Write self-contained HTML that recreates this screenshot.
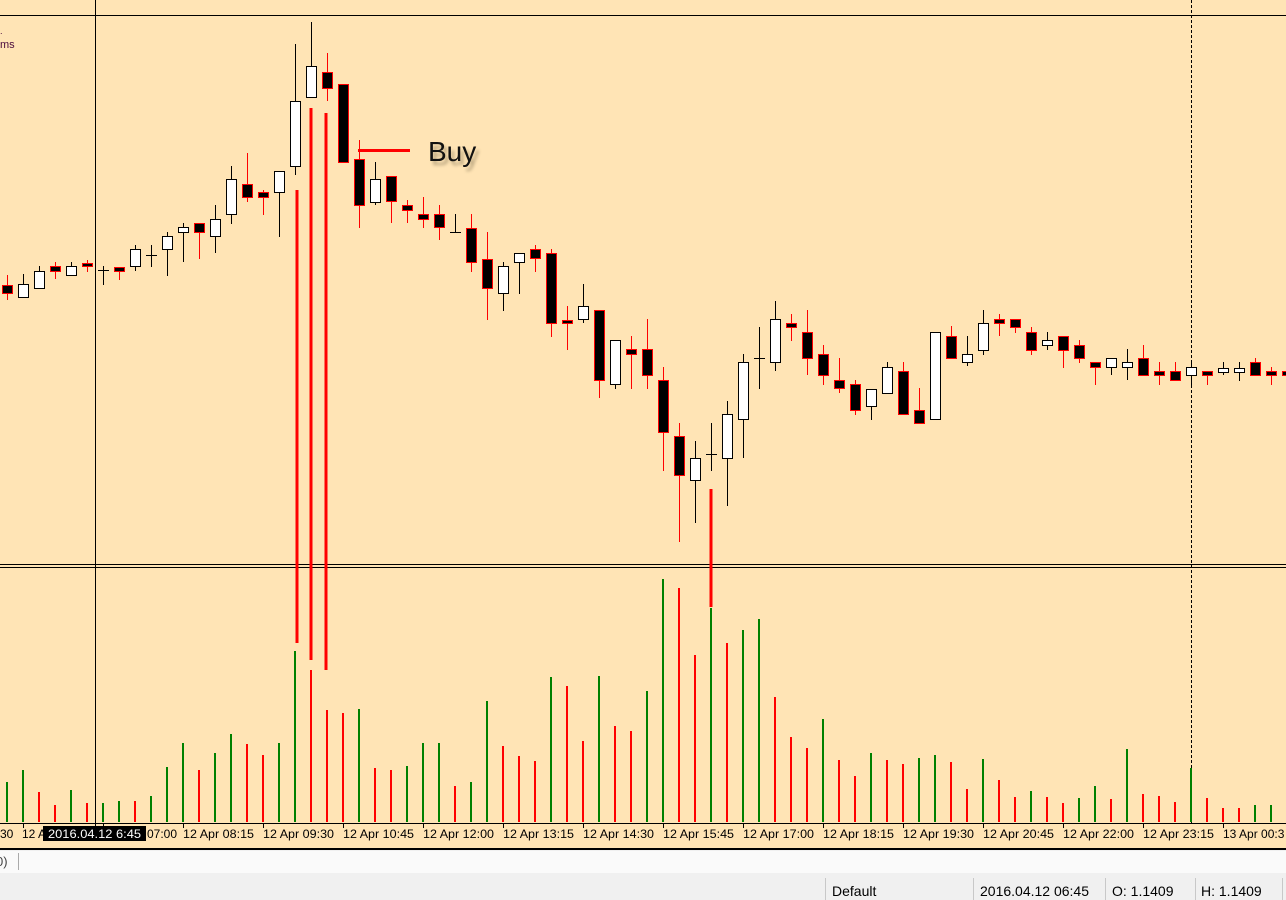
<!DOCTYPE html>
<html><head><meta charset="utf-8"><style>
html,body{margin:0;padding:0;width:1286px;height:900px;overflow:hidden;background:#FFE4B5;font-family:"Liberation Sans",sans-serif}
svg{position:absolute;left:0;top:0}
</style></head><body>
<svg id="s" width="1286" height="900" xmlns="http://www.w3.org/2000/svg"></svg>
<script>
var C=[[285,293,275,300,0],[297,284,274,297,1],[288,271,266,288,1],[266,271,262,279,0],[275,266,262,275,1],[263,266,260,272,0],[270,270,266,285,2],[267,271,267,280,0],[266,249,245,271,1],[255,255,245,267,2],[249,236,232,276,1],[232,227,223,262,1],[223,232,223,259,0],[236,219,205,253,1],[214,179,166,224,1],[184,197,153,202,0],[192,197,190,215,0],[192,171,171,237,1],[166,101,44,175,1],[97,66,22,97,1],[72,88,53,101,0],[84,162,84,162,0],[159,205,140,228,0],[202,179,162,205,1],[176,201,176,223,0],[205,210,200,223,0],[214,219,197,228,0],[214,227,205,240,0],[232,232,214,232,2],[228,262,214,272,0],[259,288,232,320,0],[293,266,262,311,1],[262,253,253,294,1],[249,258,245,272,0],[253,323,249,337,0],[320,323,306,350,0],[319,306,284,323,1],[310,380,310,398,0],[384,340,340,389,1],[349,354,336,389,0],[349,375,319,389,0],[380,432,367,471,0],[436,475,423,542,0],[480,458,441,523,1],[454,454,423,471,2],[458,414,401,506,1],[419,362,354,458,1],[358,358,327,389,2],[362,319,301,371,1],[323,327,314,341,0],[332,358,310,375,0],[354,375,345,385,0],[380,388,358,393,0],[384,410,380,415,0],[406,389,389,420,1],[393,367,362,393,1],[371,414,362,414,0],[410,423,388,423,0],[419,332,332,419,1],[336,358,326,358,0],[362,354,336,366,1],[350,323,310,355,1],[319,323,314,336,0],[319,327,319,333,0],[332,350,327,355,0],[345,340,332,350,1],[336,350,336,368,0],[345,358,340,363,0],[362,367,362,385,0],[367,358,358,375,1],[367,362,349,380,1],[358,375,345,375,0],[371,375,362,385,0],[371,380,362,380,0],[375,367,362,388,1],[371,375,371,385,0],[372,368,362,375,1],[372,368,362,381,1],[362,375,358,375,0],[371,375,367,385,0],[371,375,367,380,0]];
var V=[[782,1],[770,1],[792,0],[805,0],[790,1],[803,0],[803,1],[801,1],[801,0],[796,1],[767,1],[743,1],[770,0],[753,1],[734,1],[744,0],[755,0],[743,1],[651,1],[670,0],[710,0],[713,0],[709,1],[768,0],[770,0],[766,1],[743,1],[743,1],[786,0],[782,1],[701,1],[746,0],[756,0],[761,0],[677,1],[686,0],[741,0],[676,1],[726,0],[731,0],[691,1],[579,1],[588,0],[655,0],[608,1],[643,0],[630,1],[619,1],[697,0],[737,0],[748,0],[719,1],[760,0],[776,0],[753,1],[760,0],[764,0],[758,1],[755,1],[762,0],[789,0],[759,1],[780,0],[797,0],[791,1],[797,0],[803,0],[798,1],[786,1],[799,0],[749,1],[794,0],[796,0],[802,0],[768,1],[798,0],[808,0],[808,0],[805,1],[805,1]];
var h='';
h+='<defs><filter id="sh" x="-50%" y="-10%" width="200%" height="120%"><feGaussianBlur stdDeviation="1.5"/></filter></defs>';
h+='<line x1="0" y1="15.5" x2="1286" y2="15.5" stroke="#000"/>';
h+='<line x1="0" y1="564.5" x2="1286" y2="564.5" stroke="#000"/><line x1="0" y1="567.5" x2="1286" y2="567.5" stroke="#000"/>';
h+='<line x1="95.5" y1="0" x2="95.5" y2="828" stroke="#000"/>';
h+='<line x1="1191.5" y1="0" x2="1191.5" y2="823" stroke="#000" stroke-dasharray="3,2"/>';
for(var i=0;i<V.length;i++){var x=7+16*i;h+='<rect x="'+(x-1)+'" y="'+V[i][0]+'" width="2" height="'+(822-V[i][0])+'" fill="'+(V[i][1]?'#008000':'#ff0000')+'"/>';}
for(var i=0;i<C.length;i++){var c=C[i],x=7+16*i;var col=c[4]==1||c[4]==2?'#000':'#ff0000';
h+='<line x1="'+(x+.5)+'" y1="'+c[2]+'" x2="'+(x+.5)+'" y2="'+c[3]+'" stroke="'+col+'"/>';
if(c[4]==2){h+='<line x1="'+(x-5)+'" y1="'+(c[0]+.5)+'" x2="'+(x+6)+'" y2="'+(c[0]+.5)+'" stroke="#000"/>';}
else{var t=Math.min(c[0],c[1]),b=Math.max(c[0],c[1]);h+='<rect x="'+(x-4.5)+'" y="'+(t+.5)+'" width="10" height="'+Math.max(b-t,2)+'" fill="'+(c[4]?'#fff':'#000')+'" stroke="'+col+'"/>';}}
var L=[[297,190,643],[311,108,660],[326,113,670],[711,489,607]];
for(var k=0;k<L.length;k++){var l=L[k];h+='<line x1="'+(l[0]+4)+'" y1="'+(l[1]+4)+'" x2="'+(l[0]+4)+'" y2="'+(l[2]+4)+'" stroke="#a08c6a" stroke-width="4" opacity=".6" filter="url(#sh)"/>';h+='<line x1="'+l[0]+'" y1="'+l[1]+'" x2="'+l[0]+'" y2="'+l[2]+'" stroke="#ff0000" stroke-width="3"/>';}
h+='<line x1="362" y1="154" x2="414" y2="154" stroke="#a08c6a" stroke-width="4" opacity=".6" filter="url(#sh)"/><line x1="358" y1="150.5" x2="410" y2="150.5" stroke="#ff0000" stroke-width="3"/>';
h+='<text x="431" y="165" font-size="28" fill="#8a7a5a" opacity=".6" filter="url(#sh)">Buy</text><text x="428" y="161" font-size="28" fill="#111">Buy</text>';
h+='<text x="0" y="48" font-size="11" fill="#4b0a3c">ms</text><text x="0" y="34" font-size="9" fill="#4b0a3c">.</text>';
h+='<line x1="0" y1="823.5" x2="1286" y2="823.5" stroke="#000"/>';
for(var k=0;k<16;k++){var tx=23+80*k;h+='<line x1="'+(tx+.5)+'" y1="823" x2="'+(tx+.5)+'" y2="828" stroke="#000"/>';}
var T=['08:15','09:30','10:45','12:00','13:15','14:30','15:45','17:00','18:15','19:30','20:45','22:00','23:15'];
h+='<text x="0" y="838" font-size="12" fill="#000">30</text><text x="22" y="838" font-size="12" fill="#000">12 A</text><text x="147" y="838" font-size="12" fill="#000">07:00</text>';
for(var k=0;k<T.length;k++){h+='<text x="'+(183+80*k)+'" y="838" font-size="12" fill="#000" textLength="71" lengthAdjust="spacingAndGlyphs">12 Apr '+T[k]+'</text>';}
h+='<text x="1223" y="838" font-size="12" fill="#000">13 Apr 00:3</text>';
h+='<rect x="43" y="826" width="103" height="15" fill="#000"/><text x="48" y="838" font-size="12" fill="#fff" textLength="93" lengthAdjust="spacingAndGlyphs">2016.04.12 6:45</text>';
h+='<rect x="0" y="848" width="1286" height="52" fill="#f0f0f0"/><line x1="0" y1="849" x2="1286" y2="849" stroke="#000" stroke-width="2"/>';
h+='<rect x="0" y="851" width="1286" height="22" fill="#fafafa"/><line x1="18.5" y1="853" x2="18.5" y2="870" stroke="#aaa"/><text x="-4" y="866" font-size="13" fill="#444">0)</text>';
var D=[825,973,1105,1195,1282];for(var k=0;k<D.length;k++)h+='<line x1="'+(D[k]+.5)+'" y1="878" x2="'+(D[k]+.5)+'" y2="900" stroke="#c8c8c8"/>';
h+='<text x="832" y="896" font-size="14" fill="#000">Default</text><text x="980" y="896" font-size="14" fill="#000">2016.04.12 06:45</text><text x="1112" y="896" font-size="14" fill="#000">O: 1.1409</text><text x="1201" y="896" font-size="14" fill="#000">H: 1.1409</text>';
document.getElementById('s').innerHTML=h;
</script>
</body></html>
